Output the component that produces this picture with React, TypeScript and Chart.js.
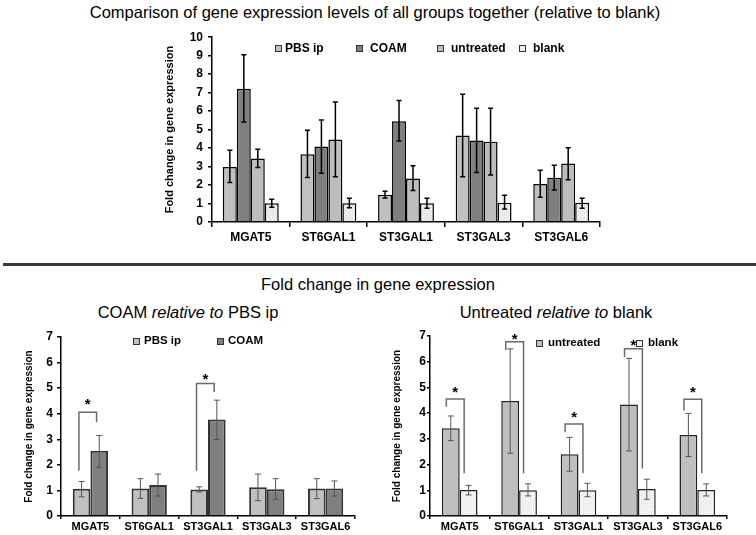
import React, { useEffect, useRef } from "react";
import { Chart, registerables } from "chart.js";
Chart.register(...registerables);

const FONT = '"Liberation Sans", Arial, Helvetica, sans-serif';

// ---------- data ----------
const genes = ["MGAT5", "ST6GAL1", "ST3GAL1", "ST3GAL3", "ST3GAL6"];
const yTitle = "Fold change in gene expression";

// top chart: all groups relative to blank
const allPbs = [2.98, 3.66, 1.48, 4.68, 2.05];
const allPbsLo = [2.14, 2.41, 1.3, 2.45, 1.34];
const allPbsHi = [3.88, 4.96, 1.66, 6.91, 2.8];
const allCoam = [7.21, 4.09, 5.45, 4.41, 2.39];
const allCoamLo = [5.41, 2.64, 4.38, 2.68, 1.73];
const allCoamHi = [9.05, 5.52, 6.57, 6.16, 3.07];
const allUntr = [3.43, 4.46, 2.36, 4.34, 3.16];
const allUntrLo = [2.95, 2.45, 1.7, 2.54, 2.29];
const allUntrHi = [3.93, 6.5, 3.05, 6.16, 4.02];
const allBlank = [1.02, 1.02, 1.02, 1.04, 1.04];
const allBlankLo = [0.8, 0.77, 0.75, 0.71, 0.75];
const allBlankHi = [1.23, 1.29, 1.29, 1.45, 1.29];

// bottom left: COAM relative to PBS ip
const relPbs = [1.07, 1.08, 1.04, 1.12, 1.08];
const relPbsLo = [0.75, 0.69, 0.94, 0.6, 0.68];
const relPbsHi = [1.35, 1.46, 1.14, 1.64, 1.46];
const relCoam = [2.55, 1.21, 3.77, 1.05, 1.08];
const relCoamLo = [1.9, 0.78, 2.99, 0.65, 0.78];
const relCoamHi = [3.15, 1.64, 4.53, 1.46, 1.37];
// significance brackets: [gene index, left leg bottom, top, right leg bottom, star]
const leftSig = [
  [0, 1.77, 4.06, 3.68, 4.46],
  [2, 1.77, 5.18, 4.85, 5.44],
];

// bottom right: untreated relative to blank
const untr = [3.41, 4.47, 2.4, 4.34, 3.15];
const untrLo = [2.93, 2.44, 1.74, 2.53, 2.31];
const untrHi = [3.89, 6.5, 3.06, 6.13, 3.99];
const blank = [1.01, 1.0, 1.0, 1.05, 1.01];
const blankLo = [0.82, 0.78, 0.75, 0.65, 0.78];
const blankHi = [1.19, 1.25, 1.27, 1.43, 1.25];
const rightSig = [
  [0, 4.25, 4.55, 1.66, 4.9],
  [1, 6.46, 6.78, 1.66, 6.98],
  [2, 3.26, 3.58, 1.66, 3.93],
  [3, 6.17, 6.5, 1.85, 6.72],
  [4, 4.1, 4.54, 1.66, 4.9],
];

// ---------- helpers ----------
function dotPattern(bg: string, dot: string): CanvasPattern | string {
  const c = document.createElement("canvas");
  c.width = 4;
  c.height = 4;
  const g = c.getContext("2d");
  if (!g) return bg;
  g.fillStyle = bg;
  g.fillRect(0, 0, 4, 4);
  g.fillStyle = dot;
  g.fillRect(0, 0, 1, 1);
  g.fillRect(2, 2, 1, 1);
  const p = g.createPattern(c, "repeat");
  return p || bg;
}

function errorBars(errs: { lo: number[]; hi: number[] }[], color: string, lw: number, cap: number) {
  return {
    id: "errbars",
    afterDatasetsDraw(chart: any) {
      const ctx = chart.ctx;
      const ys = chart.scales.y;
      ctx.save();
      ctx.strokeStyle = color;
      ctx.lineWidth = lw;
      errs.forEach((e, di) => {
        const meta = chart.getDatasetMeta(di);
        meta.data.forEach((el: any, j: number) => {
          const x = el.x;
          const y1 = ys.getPixelForValue(e.lo[j]);
          const y2 = ys.getPixelForValue(e.hi[j]);
          ctx.beginPath();
          ctx.moveTo(x, y1);
          ctx.lineTo(x, y2);
          ctx.moveTo(x - cap / 2, y1);
          ctx.lineTo(x + cap / 2, y1);
          ctx.moveTo(x - cap / 2, y2);
          ctx.lineTo(x + cap / 2, y2);
          ctx.stroke();
        });
      });
      ctx.restore();
    },
  };
}

function brackets(sig: number[][], shift: number) {
  return {
    id: "brackets",
    afterDatasetsDraw(chart: any) {
      const ctx = chart.ctx;
      const ys = chart.scales.y;
      const m0 = chart.getDatasetMeta(0);
      const m1 = chart.getDatasetMeta(1);
      ctx.save();
      sig.forEach(([i, lb, top, rb, star]) => {
        const e0: any = m0.data[i];
        const e1: any = m1.data[i];
        const xl = e0.x - shift * e0.width;
        const xr = e1.x - shift * e1.width;
        ctx.strokeStyle = "#6b6b6b";
        ctx.lineWidth = 1.5;
        ctx.beginPath();
        ctx.moveTo(xl, ys.getPixelForValue(lb));
        ctx.lineTo(xl, ys.getPixelForValue(top));
        ctx.lineTo(xr, ys.getPixelForValue(top));
        ctx.lineTo(xr, ys.getPixelForValue(rb));
        ctx.stroke();
        ctx.fillStyle = "#000";
        ctx.font = `bold 15px ${FONT}`;
        ctx.textAlign = "center";
        ctx.textBaseline = "middle";
        ctx.fillText("*", (xl + xr) / 2, ys.getPixelForValue(star) + 3);
      });
      ctx.restore();
    },
  };
}

function scales(o: any) {
  return {
    x: {
      type: "category",
      grid: { display: true, drawOnChartArea: false, drawTicks: true, tickLength: o.xTick, color: "#000", lineWidth: 1.5, offset: true },
      border: { display: true, color: "#000", width: 1.5 },
      ticks: { color: "#000", font: { family: FONT, size: o.xFont, weight: "bold" }, padding: o.xPad, maxRotation: 0, autoSkip: false },
      afterFit: (s: any) => { s.height = o.xH; },
    },
    y: {
      min: 0,
      max: o.max,
      grid: { drawOnChartArea: false, drawTicks: true, tickLength: o.yTick, color: "#000", lineWidth: 1.5 },
      border: { display: true, color: "#000", width: 1.5 },
      ticks: { stepSize: 1, color: "#000", font: { family: FONT, size: 12, weight: "bold" }, padding: o.yPad },
      title: { display: true, text: yTitle, color: "#000", font: { family: FONT, size: o.tFont, weight: "bold" }, padding: { top: o.tPad, bottom: 0 } },
      afterFit: (s: any) => { s.width = o.yW; },
    },
  };
}

function baseOptions(o: any, catPct: number) {
  return {
    responsive: false,
    animation: false,
    devicePixelRatio: 1,
    layout: { padding: { left: 0, top: o.padTop, right: o.padRight, bottom: 0 } },
    plugins: { legend: { display: false }, tooltip: { enabled: false }, title: { display: false } },
    datasets: { bar: { barPercentage: 1, categoryPercentage: catPct } },
    scales: scales(o),
  };
}

const abs = (left: number, top: number): React.CSSProperties => ({ position: "absolute", left, top });

function Legend({ items, y, size }: { items: [number, number, string, string][]; y: number; size: number }) {
  return (
    <>
      {items.map(([bx, tx, label, color]) => (
        <React.Fragment key={label}>
          <div style={{ ...abs(bx - 3.5, y - 3.5), width: 5, height: 5, border: "1px solid #333", background: color }} />
          <div style={{ ...abs(tx, y - size * 0.6), font: `bold ${size}px ${FONT}`, lineHeight: `${size * 1.2}px`, whiteSpace: "nowrap", color: "#000" }}>{label}</div>
        </React.Fragment>
      ))}
    </>
  );
}

function CenterText({ cx, cy, size, children }: { cx: number; cy: number; size: number; children: React.ReactNode }) {
  return (
    <div style={{ position: "absolute", left: cx, top: cy - size * 0.6, transform: "translateX(-50%)", font: `${size}px ${FONT}`, lineHeight: `${size * 1.2}px`, whiteSpace: "nowrap", color: "#000" }}>
      {children}
    </div>
  );
}

export default function App() {
  const topRef = useRef<HTMLCanvasElement>(null);
  const leftRef = useRef<HTMLCanvasElement>(null);
  const rightRef = useRef<HTMLCanvasElement>(null);

  useEffect(() => {
    const charts: Chart[] = [];
    const blankTop = dotPattern("#ededed", "#d2d2d2");
    const blankBot = dotPattern("#f3f3f3", "#dcdcdc");

    if (topRef.current) {
      const o = { xTick: 5, xFont: 12, xPad: 3, xH: 38, max: 10, yTick: 4, yPad: 5, tFont: 11, tPad: 23.4, yW: 72, padTop: 10, padRight: 20 };
      charts.push(
        new Chart(topRef.current, {
          type: "bar",
          data: {
            labels: genes,
            datasets: [
              { label: "PBS ip", data: allPbs, backgroundColor: "#c0c0c0", borderColor: "#000", borderWidth: 1.5 },
              { label: "COAM", data: allCoam, backgroundColor: "#7f7f7f", borderColor: "#000", borderWidth: 1.5 },
              { label: "untreated", data: allUntr, backgroundColor: "#bdbdbd", borderColor: "#000", borderWidth: 1.5 },
              { label: "blank", data: allBlank, backgroundColor: blankTop as any, borderColor: "#000", borderWidth: 1.5 },
            ],
          },
          options: baseOptions(o, 0.72) as any,
          plugins: [
            errorBars(
              [
                { lo: allPbsLo, hi: allPbsHi },
                { lo: allCoamLo, hi: allCoamHi },
                { lo: allUntrLo, hi: allUntrHi },
                { lo: allBlankLo, hi: allBlankHi },
              ],
              "#000",
              1.5,
              5
            ),
          ],
        })
      );
    }

    if (leftRef.current) {
      const o = { xTick: 3, xFont: 11, xPad: 1, xH: 19, max: 7, yTick: 4, yPad: 4, tFont: 10, tPad: 23, yW: 61, padTop: 12, padRight: 15 };
      charts.push(
        new Chart(leftRef.current, {
          type: "bar",
          data: {
            labels: genes,
            datasets: [
              { label: "PBS ip", data: relPbs, backgroundColor: "#c0c0c0", borderColor: "#333", borderWidth: 2 },
              { label: "COAM", data: relCoam, backgroundColor: "#808080", borderColor: "#333", borderWidth: 2 },
            ],
          },
          options: baseOptions(o, 0.6) as any,
          plugins: [
            errorBars(
              [
                { lo: relPbsLo, hi: relPbsHi },
                { lo: relCoamLo, hi: relCoamHi },
              ],
              "#555",
              1,
              6
            ),
            brackets(leftSig, 0.15),
          ],
        })
      );
    }

    if (rightRef.current) {
      const o = { xTick: 3, xFont: 11, xPad: 1, xH: 19, max: 7, yTick: 3, yPad: 1, tFont: 10, tPad: 16, yW: 55, padTop: 11, padRight: 18 };
      charts.push(
        new Chart(rightRef.current, {
          type: "bar",
          data: {
            labels: genes,
            datasets: [
              { label: "untreated", data: untr, backgroundColor: "#bfbfbf", borderColor: "#222", borderWidth: 1.5 },
              { label: "blank", data: blank, backgroundColor: blankBot as any, borderColor: "#222", borderWidth: 1.5 },
            ],
          },
          options: baseOptions(o, 0.6) as any,
          plugins: [
            errorBars(
              [
                { lo: untrLo, hi: untrHi },
                { lo: blankLo, hi: blankHi },
              ],
              "#555",
              1,
              6
            ),
            brackets(rightSig, 0.25),
          ],
        })
      );
    }

    return () => charts.forEach((c) => c.destroy());
  }, []);

  return (
    <div style={{ position: "absolute", left: 0, top: 0, width: 756, height: 535, background: "#fff", overflow: "hidden", fontFamily: FONT }}>
      <canvas ref={topRef} width={480} height={235} style={{ ...abs(140, 25), width: 480, height: 235 }} />
      <canvas ref={leftRef} width={370} height={210} style={{ ...abs(0, 325), width: 370, height: 210 }} />
      <canvas ref={rightRef} width={370} height={210} style={{ ...abs(375, 325), width: 370, height: 210 }} />

      <CenterText cx={375} cy={13} size={16.5}>
        Comparison of gene expression levels of all groups together (relative to blank)
      </CenterText>
      <div style={{ ...abs(3, 263), width: 753, height: 3, background: "#3a3a3a" }} />
      <CenterText cx={378} cy={285} size={16.5}>
        Fold change in gene expression
      </CenterText>
      <CenterText cx={188} cy={313} size={16.5}>
        COAM <i>relative to</i> PBS ip
      </CenterText>
      <CenterText cx={556} cy={313} size={16.5}>
        Untreated <i>relative to</i> blank
      </CenterText>

      <Legend
        y={48}
        size={12}
        items={[
          [278, 285, "PBS ip", "#c0c0c0"],
          [359, 370, "COAM", "#7f7f7f"],
          [440, 451, "untreated", "#bdbdbd"],
          [522, 533, "blank", "#ececec"],
        ]}
      />
      <Legend
        y={341}
        size={11.5}
        items={[
          [136, 144, "PBS ip", "#c0c0c0"],
          [220, 228, "COAM", "#808080"],
        ]}
      />
      <Legend
        y={343}
        size={11.5}
        items={[
          [539, 548, "untreated", "#bfbfbf"],
          [639, 648, "blank", "#f2f2f2"],
        ]}
      />
    </div>
  );
}
